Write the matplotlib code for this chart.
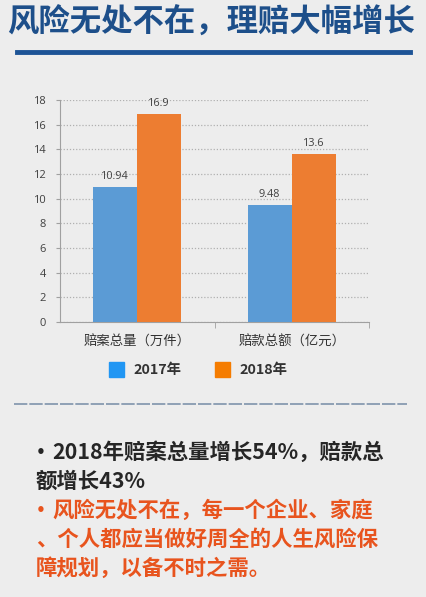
import matplotlib
matplotlib.use("Agg")
import matplotlib.pyplot as plt
from matplotlib.patches import Rectangle
from matplotlib.lines import Line2D
import numpy as np

plt.rcParams['font.family'] = ['Noto Sans CJK SC', 'DejaVu Sans']

title = "风险无处不在，理赔大幅增长"
categories = ["赔案总量（万件）", "赔款总额（亿元）"]
series_names = ["2017年", "2018年"]
values_2017 = [10.94, 9.48]
values_2018 = [16.9, 13.6]
yticks = [0, 2, 4, 6, 8, 10, 12, 14, 16, 18]
# (bullet?, text)
notes_black = [(True, "2018年赔案总量增长54%，赔款总"), (False, "额增长43%")]
notes_red = [(True, "风险无处不在，每一个企业、家庭"), (False, "、个人都应当做好周全的人生风险保"),
             (False, "障规划，以备不时之需。")]

W, H = 426, 597
fig = plt.figure(figsize=(W / 100, H / 100), dpi=100)
fig.patch.set_facecolor("#ededed")

def fx(px):
    return px / W

def fy(py):
    return 1 - py / H

# Title
fig.text(fx(211), fy(23), title, ha="center", va="center", fontsize=22.6,
         fontweight="black", color="#1d4f8a")
fig.add_artist(Line2D([fx(17), fx(410)], [fy(52), fy(52)], color="#1d5496", lw=3.5))

# Chart axes
ax = fig.add_axes([fx(60), fy(322), fx(369) - fx(60), fy(100) - fy(322)])
ax.set_facecolor("none")
x = np.arange(len(categories))
bw = 0.285
b1 = ax.bar(x - bw / 2, values_2017, bw, color="#5b9bd5", zorder=3)
b2 = ax.bar(x + bw / 2, values_2018, bw, color="#ed7d31", zorder=3)
for bars, vals in [(b1, values_2017), (b2, values_2018)]:
    for r, v in zip(bars, vals):
        ax.text(r.get_x() + r.get_width() / 2, v + 0.4, f"{v:g}", ha="center", va="bottom",
                fontsize=7.8, color="#404040", family=["Open Sans", "DejaVu Sans"])
ax.set_xlim(-0.5, 1.5)
ax.set_ylim(0, 18)
ax.set_yticks(yticks)
ax.set_yticklabels([str(t) for t in yticks], fontsize=8, color="#404040",
                   family=["Open Sans", "DejaVu Sans"])
ax.set_xticks(x)
ax.set_xticklabels(categories, fontsize=9.6, color="#333333")
ax.yaxis.grid(True, linestyle=(0, (1, 1.5)), color="#b0b0b0", lw=0.9, zorder=0)
for s in ["top", "right"]:
    ax.spines[s].set_visible(False)
ax.spines["left"].set_color("#a0a0a0")
ax.spines["bottom"].set_color("#a0a0a0")
ax.tick_params(axis="y", length=3, color="#a0a0a0", pad=7)
ax.tick_params(axis="x", length=0, pad=9)
ax.set_xticks([0.5, 1.5], minor=True)
ax.tick_params(axis="x", which="minor", length=4, color="#a0a0a0")

# Legend (manual)
leg_colors = ["#2196f3", "#f57c00"]
leg_x = [109, 215]
for name, c, lx in zip(series_names, leg_colors, leg_x):
    fig.add_artist(Rectangle((fx(lx), fy(377)), fx(15), 15 / H, color=c, transform=fig.transFigure))
    fig.text(fx(lx + 24), fy(370), name, ha="left", va="center", fontsize=10.3,
             fontweight="bold", color="#333333")

# Dashed separator
fig.add_artist(Line2D([fx(14), fx(407)], [fy(404), fy(404)], color="#7f93ab", lw=1.2,
                      linestyle=(0, (8, 1.2))))

# Notes
ys = [452, 481, 510, 539, 568]
lines = [(b, t, "#262626") for b, t in notes_black] + [(b, t, "#e8541e") for b, t in notes_red]
for (b, t, c), yy in zip(lines, ys):
    if b:
        fig.text(fx(36), fy(yy + 1), "•", ha="left", va="center", fontsize=11,
                 fontweight="bold", color=c, family=["DejaVu Sans"])
        fig.text(fx(52), fy(yy), t, ha="left", va="center", fontsize=15.4, fontweight="bold", color=c)
    else:
        fig.text(fx(36), fy(yy), t, ha="left", va="center", fontsize=15.4, fontweight="bold", color=c)

fig.savefig("out.png", dpi=100, facecolor=fig.get_facecolor())
